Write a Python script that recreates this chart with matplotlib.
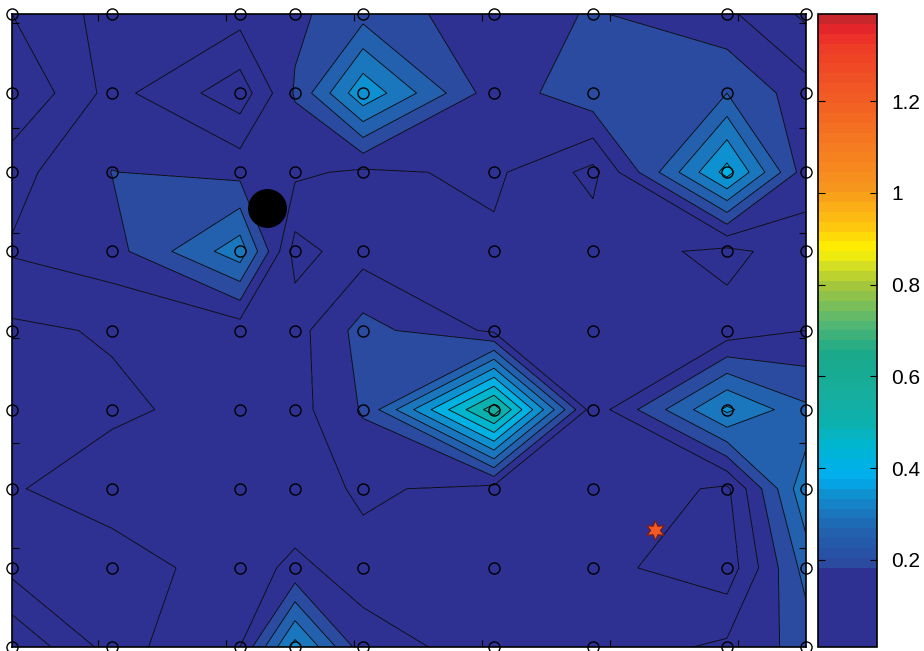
import numpy as np
import matplotlib
matplotlib.use("Agg")
import matplotlib.pyplot as plt
from matplotlib.colors import LinearSegmentedColormap, ListedColormap, Normalize
from matplotlib.cm import ScalarMappable

plt.rcParams['font.family'] = ['Liberation Sans', 'DejaVu Sans']

# measurement grid (x positions are uneven, rows evenly spaced; first row = top)
x_nodes = [0.0, 1.00, 2.28, 2.83, 3.51, 4.82, 5.81, 7.15, 7.94]
y_nodes = [8, 7, 6, 5, 4, 3, 2, 1, 0]

z_rows = [
    [0.100, 0.170, 0.170, 0.190, 0.230, 0.170, 0.205, 0.160, 0.090],
    [0.049, 0.168, 0.070, 0.205, 0.390, 0.170, 0.235, 0.250, 0.170],
    [0.132, 0.201, 0.184, 0.160, 0.140, 0.160, 0.085, 0.420, 0.170],
    [0.155, 0.180, 0.330, 0.080, 0.130, 0.140, 0.130, 0.085, 0.130],
    [0.090, 0.105, 0.120, 0.130, 0.220, 0.140, 0.130, 0.120, 0.150],
    [0.080, 0.090, 0.120, 0.130, 0.205, 0.580, 0.120, 0.360, 0.260],
    [0.095, 0.130, 0.130, 0.120, 0.160, 0.130, 0.140, 0.090, 0.340],
    [0.085, 0.070, 0.130, 0.160, 0.130, 0.120, 0.115, 0.070, 0.270],
    [0.195, 0.080, 0.150, 0.370, 0.170, 0.130, 0.120, 0.160, 0.220],
]

contour_levels = [0.0, 0.05, 0.10, 0.15, 0.20, 0.25, 0.30, 0.35, 0.40, 0.45, 0.50, 0.55, 0.60]
cbar_ticks = [0.2, 0.4, 0.6, 0.8, 1.0, 1.2]
cbar_ticklabels = ['0.2', '0.4', '0.6', '0.8', '1', '1.2']
c_min, c_max = 0.01, 1.39

source_xy = (2.55, 5.55)
target_xy = (6.43, 1.48)

# colour scale (value -> colour), sampled into 64 flat steps
anchors = [
    (0.010, '#2e3192'), (0.180, '#2e3192'), (0.193, '#2a4ba0'), (0.258, '#2360ad'),
    (0.301, '#1a75bc'), (0.344, '#0f90d0'), (0.380, '#00aeef'), (0.410, '#00b2e4'),
    (0.452, '#00b6d0'), (0.495, '#0bb1b0'), (0.560, '#16ae9f'), (0.650, '#1aa98a'),
    (0.720, '#56b771'), (0.800, '#a3c63c'), (0.850, '#dbe21e'), (0.880, '#fff200'),
    (0.940, '#fdc010'), (1.020, '#f7941d'), (1.120, '#f47721'), (1.220, '#f15a24'),
    (1.320, '#ee3d26'), (1.360, '#e8262a'), (1.390, '#c1272d'),
]
pos = [(v - c_min) / (c_max - c_min) for v, _ in anchors]
base = LinearSegmentedColormap.from_list('scale', list(zip(pos, [c for _, c in anchors])))
cmap64 = ListedColormap(base((np.arange(64) + 0.5) / 64))
norm = Normalize(c_min, c_max)

X, Y = np.meshgrid(np.array(x_nodes), np.array(y_nodes[::-1]))
Z = np.array(z_rows)[::-1]

fig = plt.figure(figsize=(9.24, 6.51), dpi=100)
W, H = 924, 651
ax = fig.add_axes([12 / W, 4 / H, 794 / W, 633 / H])

# each band takes the colour of its lower level
fill_colors = [cmap64(norm(l)) for l in contour_levels[:-1]]
ax.contourf(X, Y, Z, levels=contour_levels, colors=fill_colors, antialiased=True)
ax.contour(X, Y, Z, levels=contour_levels[1:-1], colors='black', linewidths=0.6)

ax.plot(X.ravel(), Y.ravel(), 'o', ms=8, mfc='none', mec='black', mew=1.0, clip_on=False, zorder=5)
ax.plot(*source_xy, 'o', ms=27, color='black', zorder=6)
ax.plot(*target_xy, marker=(6, 1, 0), ms=14, mfc='#f15a24', mec='#7a1a10', mew=0.8, zorder=6)

ax.set_xlim(x_nodes[0], x_nodes[-1])
ax.set_ylim(0, 8)
ax.set_xticks([0.86, 2.14, 3.42, 4.70, 5.98, 7.26])
ax.set_yticks([1.25, 2.58, 3.90, 5.23, 6.56, 7.89])
ax.set_xticklabels([])
ax.set_yticklabels([])
ax.tick_params(direction='in', length=5, width=0.8, top=True, right=True)
for s in ax.spines.values():
    s.set_linewidth(1.2)

cax = fig.add_axes([818 / W, 4 / H, 59 / W, 633 / H])
cb = fig.colorbar(ScalarMappable(norm=norm, cmap=cmap64), cax=cax, ticks=cbar_ticks)
cb.set_ticklabels(cbar_ticklabels)
cax.tick_params(direction='in', length=5, width=0.8, left=True, right=True, labelsize=15, pad=10)
cb.outline.set_linewidth(1.2)

fig.savefig('out.png', dpi=100)
